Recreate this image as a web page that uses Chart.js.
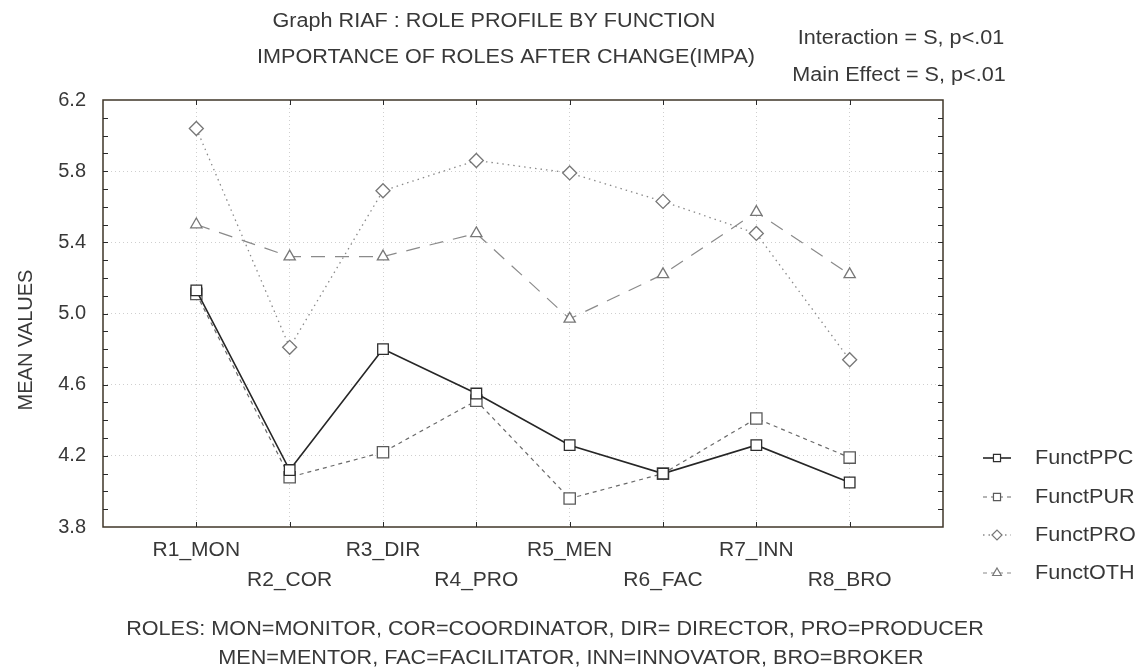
<!DOCTYPE html>
<html>
<head>
<meta charset="utf-8">
<script src="https://cdn.jsdelivr.net/npm/chart.js@4.4.1/dist/chart.umd.min.js"></script>
<style>
  html, body { margin: 0; padding: 0; background: #fff; }
  #wrap { width: 1137px; height: 670px; position: relative; }
</style>
</head>
<body>
<div id="wrap"><canvas id="chart" width="1137" height="670"></canvas></div>
<script>
// roles on the x axis
const ROLES = ["R1_MON", "R2_COR", "R3_DIR", "R4_PRO", "R5_MEN", "R6_FAC", "R7_INN", "R8_BRO"];

// mean values per function
const PPC = [5.13, 4.12, 4.80, 4.55, 4.26, 4.10, 4.26, 4.05];
const PUR = [5.11, 4.08, 4.22, 4.51, 3.96, 4.10, 4.41, 4.19];
const PRO = [6.04, 4.81, 5.69, 5.86, 5.79, 5.63, 5.45, 4.74];
const OTH = [5.50, 5.32, 5.32, 5.45, 4.97, 5.22, 5.57, 5.22];

const SERIES_NAMES = ["FunctPPC", "FunctPUR", "FunctPRO", "FunctOTH"];

// y axis ticks
const Y_MIN = 3.8;
const Y_MAX = 6.2;
const Y_STEP = 0.4;
const Y_MINOR = 0.1;

const TITLE_1 = "Graph RIAF : ROLE PROFILE BY FUNCTION";
const TITLE_2 = "IMPORTANCE OF ROLES AFTER CHANGE(IMPA)";
const NOTE_1 = "Interaction = S, p<.01";
const NOTE_2 = "Main Effect = S, p<.01";
const Y_TITLE = "MEAN VALUES";
const FOOT_1 = "ROLES: MON=MONITOR, COR=COORDINATOR, DIR= DIRECTOR, PRO=PRODUCER";
const FOOT_2 = "MEN=MENTOR, FAC=FACILITATOR, INN=INNOVATOR, BRO=BROKER";

const FONT = '"Liberation Sans", Arial, sans-serif';
const TEXT_COLOR = "#383838";
const STRETCH = 1.08; // the scanned text is a bit wider than Arial

// turn a series into {x,y} points at category positions 1..8
function toPoints(values) {
  return values.map((v, i) => ({ x: i + 1, y: v }));
}

const STYLES = [
  { color: "#262626", width: 1.6, dash: [], point: "rect", radius: 7.5, pointColor: "#2e2e2e" },
  { color: "#6a6a6a", width: 1.2, dash: [4, 4], point: "rect", radius: 8, pointColor: "#5a5a5a" },
  { color: "#8a8a8a", width: 1.3, dash: [1.5, 4], point: "rectRot", radius: 7, pointColor: "#777" },
  { color: "#8a8a8a", width: 1.2, dash: [14, 10], point: "triangle", radius: 6.5, pointColor: "#777" }
];

const SERIES = [PPC, PUR, PRO, OTH];

const datasets = SERIES.map((vals, i) => ({
  label: SERIES_NAMES[i],
  data: toPoints(vals),
  borderColor: STYLES[i].color,
  borderWidth: STYLES[i].width,
  borderDash: STYLES[i].dash,
  pointStyle: STYLES[i].point,
  pointRadius: STYLES[i].radius,
  pointHoverRadius: STYLES[i].radius,
  pointBackgroundColor: "#fff",
  pointBorderColor: STYLES[i].pointColor,
  pointBorderWidth: 1.3,
  tension: 0,
  fill: false
}));

// draw text slightly stretched horizontally
function wideText(ctx, str, x, y, align) {
  ctx.save();
  ctx.translate(x, y);
  ctx.scale(STRETCH, 1);
  ctx.textAlign = align;
  ctx.fillText(str, 0, 0);
  ctx.restore();
}

// frame, inward tick marks, titles and legend
const decorPlugin = {
  id: "decor",
  afterDraw(chart) {
    const ctx = chart.ctx;
    const a = chart.chartArea;
    const xs = chart.scales.x;
    const ys = chart.scales.y;
    ctx.save();

    // frame
    ctx.strokeStyle = "#3f3628";
    ctx.lineWidth = 1.5;
    ctx.setLineDash([]);
    ctx.strokeRect(a.left, a.top, a.right - a.left, a.bottom - a.top);

    // minor ticks on left / right
    ctx.lineWidth = 1;
    ctx.strokeStyle = "#2a2a2a";
    const n = Math.round((Y_MAX - Y_MIN) / Y_MINOR);
    for (let k = 1; k < n; k++) {
      const y = Math.round(ys.getPixelForValue(Y_MIN + k * Y_MINOR)) + 0.5;
      ctx.beginPath();
      ctx.moveTo(a.left, y); ctx.lineTo(a.left + 5, y);
      ctx.moveTo(a.right, y); ctx.lineTo(a.right - 5, y);
      ctx.stroke();
    }
    // category ticks top / bottom
    ROLES.forEach((r, i) => {
      const x = Math.round(xs.getPixelForValue(i + 1)) + 0.5;
      ctx.beginPath();
      ctx.moveTo(x, a.top); ctx.lineTo(x, a.top + 5);
      ctx.moveTo(x, a.bottom); ctx.lineTo(x, a.bottom - 5);
      ctx.stroke();
    });

    // texts
    ctx.fillStyle = TEXT_COLOR;
    ctx.font = "20px " + FONT;
    ctx.textBaseline = "middle";
    wideText(ctx, TITLE_1, 494, 21, "center");
    wideText(ctx, TITLE_2, 506, 57, "center");
    wideText(ctx, NOTE_1, 901, 38, "center");
    wideText(ctx, NOTE_2, 899, 75, "center");
    wideText(ctx, FOOT_1, 555, 629, "center");
    wideText(ctx, FOOT_2, 571, 658, "center");

    ctx.save();
    ctx.translate(26, 340);
    ctx.rotate(-Math.PI / 2);
    ctx.textAlign = "center";
    ctx.fillText(Y_TITLE, 0, 0);
    ctx.restore();

    // legend
    const rows = [458, 497, 535, 573];
    SERIES_NAMES.forEach((name, i) => {
      const st = STYLES[i];
      const y = rows[i];
      ctx.strokeStyle = st.color;
      ctx.lineWidth = st.width;
      ctx.setLineDash(st.dash.length ? st.dash.map(d => Math.min(d, 4)) : []);
      ctx.beginPath();
      ctx.moveTo(983, y); ctx.lineTo(1011, y);
      ctx.stroke();
      ctx.setLineDash([]);
      ctx.fillStyle = "#fff";
      ctx.strokeStyle = st.pointColor;
      ctx.lineWidth = 1.2;
      Chart.helpers.drawPoint(ctx, { pointStyle: st.point, radius: 5, rotation: 0, borderWidth: 1.2 }, 997, y);
      ctx.fillStyle = TEXT_COLOR;
      wideText(ctx, name, 1035, y, "left");
    });

    ctx.restore();
  }
};

new Chart(document.getElementById("chart"), {
  type: "line",
  data: { datasets },
  options: {
    responsive: false,
    devicePixelRatio: 1,
    animation: false,
    layout: { padding: { left: 0, right: 194, top: 100, bottom: 0 } },
    plugins: { legend: { display: false }, tooltip: { enabled: false } },
    scales: {
      x: {
        type: "linear",
        min: 0,
        max: ROLES.length + 1,
        afterBuildTicks: s => { s.ticks = ROLES.map((r, i) => ({ value: i + 1 })); },
        afterFit: s => { s.height = 143; },
        ticks: {
          autoSkip: false,
          maxRotation: 0,
          padding: 8,
          color: TEXT_COLOR,
          font: { family: FONT, size: 21, lineHeight: 1.43 },
          callback: v => {
            const i = Math.round(v) - 1;
            if (i < 0 || i >= ROLES.length) return "";
            return i % 2 === 0 ? ROLES[i] : ["", ROLES[i]];
          }
        },
        grid: { color: "#cfcfcf", lineWidth: 1, drawTicks: false },
        border: { display: false, dash: [1, 3] }
      },
      y: {
        min: Y_MIN,
        max: Y_MAX,
        afterFit: s => { s.width = 103; },
        ticks: {
          stepSize: Y_STEP,
          padding: 17,
          color: TEXT_COLOR,
          font: { family: FONT, size: 20 },
          callback: v => Number(v).toFixed(1)
        },
        grid: {
          color: c => (c.tick && (Math.abs(c.tick.value - Y_MIN) < 1e-6 || Math.abs(c.tick.value - Y_MAX) < 1e-6)) ? "rgba(0,0,0,0)" : "#cfcfcf",
          lineWidth: 1,
          drawTicks: false
        },
        border: { display: false, dash: [1, 3] }
      }
    }
  },
  plugins: [decorPlugin]
});
</script>
</body>
</html>
